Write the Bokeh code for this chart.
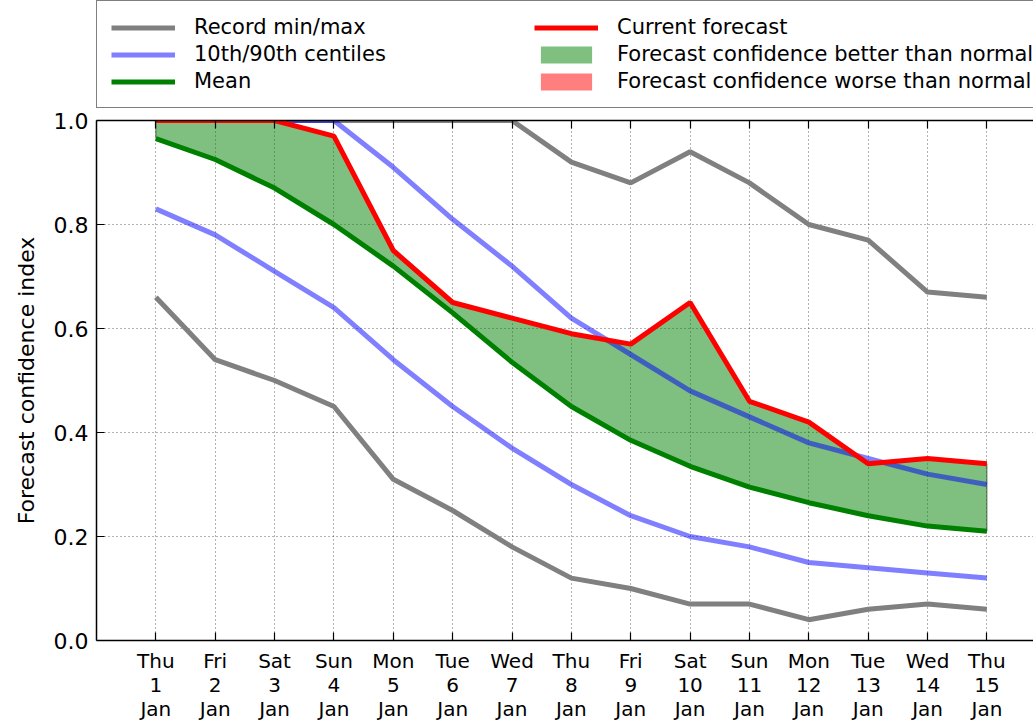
from bokeh.plotting import figure
from bokeh.layouts import column
from bokeh.models import (Range1d, FixedTicker, LinearAxis, Legend, LegendItem,
                          NumeralTickFormatter)
from bokeh.embed import file_html
from bokeh.resources import INLINE
import numpy as np

# ---- data ----
days = list(range(1, 16))
weekdays = ["Thu", "Fri", "Sat", "Sun", "Mon", "Tue", "Wed", "Thu",
            "Fri", "Sat", "Sun", "Mon", "Tue", "Wed", "Thu"]
month = "Jan"
record_max = [1.0, 1.0, 1.0, 1.0, 1.0, 1.0, 1.0, 0.92, 0.88, 0.94, 0.88, 0.80, 0.77, 0.67, 0.66]
record_min = [0.66, 0.54, 0.50, 0.45, 0.31, 0.25, 0.18, 0.12, 0.10, 0.07, 0.07, 0.04, 0.06, 0.07, 0.06]
p90 = [1.0, 1.0, 1.0, 1.0, 0.91, 0.81, 0.72, 0.62, 0.55, 0.48, 0.43, 0.38, 0.35, 0.32, 0.30]
p10 = [0.83, 0.78, 0.71, 0.64, 0.54, 0.45, 0.37, 0.30, 0.24, 0.20, 0.18, 0.15, 0.14, 0.13, 0.12]
mean = [0.965, 0.925, 0.87, 0.80, 0.72, 0.63, 0.535, 0.45, 0.385, 0.335, 0.295, 0.265, 0.24, 0.22, 0.21]
forecast = [1.0, 1.0, 1.0, 0.97, 0.75, 0.65, 0.62, 0.59, 0.57, 0.65, 0.46, 0.42, 0.34, 0.35, 0.34]
yticks = [0.0, 0.2, 0.4, 0.6, 0.8, 1.0]
legend_labels = ["Record min/max", "10th/90th centiles", "Mean", "Current forecast",
                 "Forecast confidence better than normal",
                 "Forecast confidence worse than normal"]

better_top = np.maximum(np.array(forecast), np.array(mean))
worse_bot = np.minimum(np.array(forecast), np.array(mean))

FONT = "DejaVu Sans"
GRAY, BLUE, GREEN, RED = "#808080", "#0000ff", "#008000", "#ff0000"
LW = 5

# ---------------- main chart ----------------
p = figure(width=1033, height=614, output_backend="svg", toolbar_location=None,
           x_range=Range1d(0, 15.785), y_range=Range1d(0, 1.0),
           min_border_left=96, min_border_right=0, min_border_top=11, min_border_bottom=81)
p.outline_line_color = None
p.background_fill_color = "white"

p.varea(x=days, y1=mean, y2=better_top, fill_color=GREEN, fill_alpha=0.5)
p.varea(x=days, y1=worse_bot, y2=mean, fill_color=RED, fill_alpha=0.5)
p.segment(x0=[days[0], days[-1]], y0=[mean[0], mean[-1]],
          x1=[days[0], days[-1]], y1=[better_top[0], better_top[-1]],
          line_color="#335533", line_width=1, line_alpha=0.8)

p.line(days, record_max, line_color=GRAY, line_width=LW)
p.line(days, record_min, line_color=GRAY, line_width=LW)
p.line(days, p90, line_color=BLUE, line_alpha=0.5, line_width=LW)
p.line(days, p10, line_color=BLUE, line_alpha=0.5, line_width=LW)
p.line(days, mean, line_color=GREEN, line_width=LW)
p.line(days, forecast, line_color=RED, line_width=LW)

xa = p.xaxis[0]
xa.ticker = FixedTicker(ticks=days)
xa.major_label_overrides = {d: f"{w}\n{d}\n{month}" for d, w in zip(days, weekdays)}
xa.major_label_text_line_height = 1.0
ya = p.yaxis[0]
ya.ticker = FixedTicker(ticks=yticks)
ya.formatter = NumeralTickFormatter(format="0.0")
ya.axis_label = "Forecast confidence index"
ya.axis_label_text_font = FONT
ya.axis_label_text_font_size = "22px"
ya.axis_label_text_font_style = "normal"
ya.axis_label_text_color = "#000000"
ya.axis_label_standoff = 12

for ax in (xa, ya):
    ax.major_tick_in = 8
    ax.major_tick_out = 0
    ax.minor_tick_in = 0
    ax.minor_tick_out = 0
    ax.axis_line_width = 1.5
    ax.axis_line_color = "black"
    ax.major_tick_line_width = 1.2
    ax.major_label_text_font = FONT
    ax.major_label_text_color = "#000000"
xa.major_label_text_font_size = "20px"
xa.major_label_standoff = 8
ya.major_label_text_font_size = "22px"
ya.major_label_standoff = 8

top = LinearAxis(ticker=FixedTicker(ticks=days), major_tick_in=8, major_tick_out=0,
                 minor_tick_in=0, minor_tick_out=0, axis_line_width=1.5,
                 axis_line_color="black", major_tick_line_width=1.2,
                 major_label_text_font_size="1px", major_label_text_alpha=0.0,
                 major_label_standoff=0)
p.add_layout(top, "above")

p.xgrid.ticker = FixedTicker(ticks=days)
p.ygrid.ticker = FixedTicker(ticks=yticks)
for g in (p.xgrid, p.ygrid):
    g.grid_line_color = "#000000"
    g.grid_line_alpha = 0.6
    g.grid_line_dash = "1 3"
    g.grid_line_width = 1

# ---------------- legend strip ----------------
# legend-only figure: its view range lies above all data, so its renderers only
# supply the legend swatches
lg = figure(width=1033, height=109, output_backend="svg", toolbar_location=None,
            x_range=Range1d(0, 15.785), y_range=Range1d(5, 6),
            min_border_left=0, min_border_right=0, min_border_top=0, min_border_bottom=0)
lg.axis.visible = False
lg.grid.visible = False
lg.outline_line_color = None
r_rec = lg.line(days, record_max, line_color=GRAY, line_width=LW)
r_cen = lg.line(days, p90, line_color=BLUE, line_alpha=0.5, line_width=LW)
r_mean = lg.line(days, mean, line_color=GREEN, line_width=LW)
r_fc = lg.line(days, forecast, line_color=RED, line_width=LW)
r_bet = lg.varea(x=days, y1=mean, y2=better_top, fill_color=GREEN, fill_alpha=0.5)
r_wor = lg.varea(x=days, y1=worse_bot, y2=mean, fill_color=RED, fill_alpha=0.5)

legend = Legend(items=[LegendItem(label=t, renderers=[r]) for t, r in
                       zip(legend_labels, [r_rec, r_cen, r_mean, r_fc, r_bet, r_wor])],
                ncols=2, location=(0, 1), orientation="vertical")
legend.label_text_font = FONT
legend.label_text_font_size = "21px"
legend.label_text_color = "#000000"
legend.glyph_width = 64
legend.glyph_height = 21
legend.label_standoff = 19
legend.label_width = 337
legend.spacing = 3
legend.padding = 14
legend.margin = 0
legend.border_line_color = "black"
legend.border_line_width = 1.5
legend.background_fill_color = "white"
legend.background_fill_alpha = 1.0
lg.add_layout(legend, "center")

layout = column(lg, p, spacing=0)
open("out.html", "w").write(file_html(layout, INLINE))
